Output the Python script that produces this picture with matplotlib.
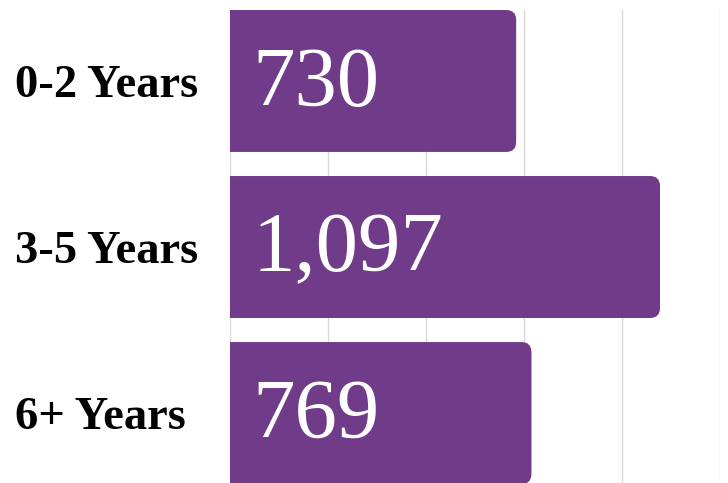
import numpy as np
import matplotlib.pyplot as plt
from matplotlib.patches import FancyBboxPatch

categories = ['0-2 Years', '3-5 Years', '6+ Years']
counts = [730, 1097, 769]
grid_ticks = [0, 250, 500, 750, 1000, 1250]

bar_color = '#703b88'
grid_color = '#d9d9d9'

fig = plt.figure(figsize=(7.28, 4.83), dpi=100)
ax = fig.add_axes([230 / 728, -1 / 483, 490 / 728, 474 / 483])

y = np.arange(len(categories))
bar_h = 0.855
bars = ax.barh(y, counts, height=bar_h, color=bar_color)

# swap the plain rectangles for ones with rounded right corners
px_x = 490 / 1250          # pixels per data unit along x
px_y = 474 / (len(categories) - 1 + bar_h)
rad = 10                   # corner radius in pixels
for b in bars:
    x0, y0, w, h = b.get_x(), b.get_y(), b.get_width(), b.get_height()
    b.set_visible(False)
    p = FancyBboxPatch((x0 - 200, y0), w + 200, h,
                       boxstyle=f"round,pad=0,rounding_size={rad / px_x}",
                       mutation_aspect=(px_x / px_y),
                       facecolor=bar_color, edgecolor='none', zorder=2)
    ax.add_patch(p)

for i, v in enumerate(counts):
    ax.annotate(f"{v:,}", xy=(0, i), xytext=(16, -3), textcoords='offset points',
                ha='left', va='center', color='white', fontsize=61,
                family='Liberation Serif', zorder=3)

ax.set_xlim(0, 1250)
ax.set_ylim(len(categories) - 1 + bar_h / 2, -bar_h / 2)
ax.set_xticks(grid_ticks)
ax.xaxis.grid(True, color=grid_color, linewidth=1)
ax.set_axisbelow(True)
ax.tick_params(axis='x', length=0, labelbottom=False)
ax.set_yticks(y, categories)
ax.tick_params(axis='y', length=0, pad=155)
for lab in ax.get_yticklabels():
    lab.set_horizontalalignment('left')
    lab.set_fontfamily('Liberation Serif')
    lab.set_fontweight('bold')
    lab.set_fontsize(33.5)
for s in ax.spines.values():
    s.set_visible(False)

fig.savefig('out.png', dpi=100)
